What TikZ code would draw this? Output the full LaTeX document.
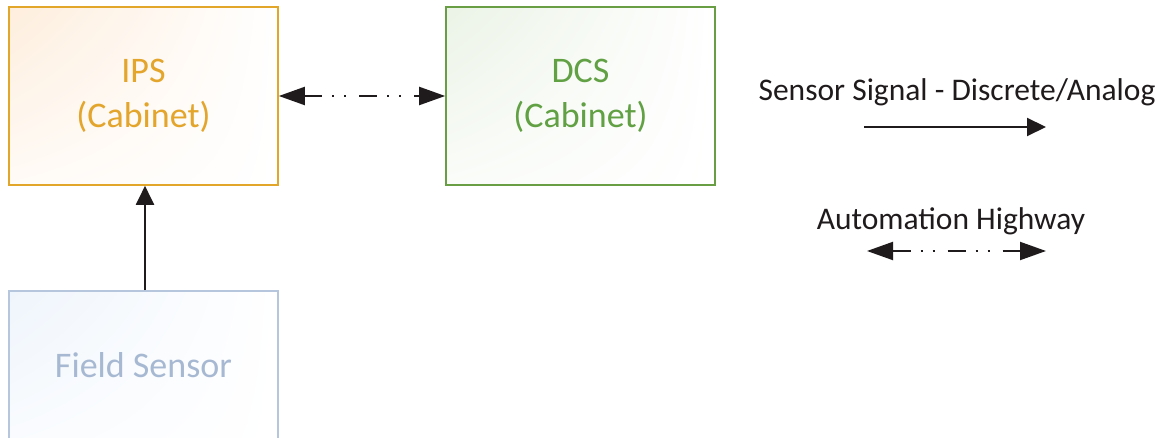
\documentclass[tikz,border=0pt]{standalone}
\usepackage{fontspec}
\setmainfont{Carlito}
\usetikzlibrary{arrows.meta,shadings}
\definecolor{ipsline}{HTML}{E2A62A}
\definecolor{ipstext}{HTML}{E3A52C}
\definecolor{ipstint}{HTML}{FEEEDD}
\definecolor{dcsline}{HTML}{6A9E45}
\definecolor{dcstext}{HTML}{62A044}
\definecolor{dcstint}{HTML}{EBF3E6}
\definecolor{fsline}{HTML}{B6C6DC}
\definecolor{fstext}{HTML}{A7B9D2}
\definecolor{fstint}{HTML}{EFF5FC}
\definecolor{ink}{HTML}{1F1A1C}
\tikzset{
  x=1pt, y=-1pt,
  cabinet/.style={rectangle, minimum width=269pt, minimum height=178pt,
    line width=1.6pt, align=center, font=\fontsize{36}{45}\selectfont, inner sep=0pt},
  signal/.style={line width=2pt, draw=ink, -{Triangle[length=19pt, width=18pt]}},
  highway/.style={line width=2pt, draw=ink,
    dash pattern=on 18pt off 10pt on 2pt off 10pt on 2pt off 13pt,
    {Triangle[length=26pt, width=18pt]}-{Triangle[length=26pt, width=18pt]}},
  legendtext/.style={font=\fontsize{31.5}{38}\selectfont, text=ink, inner sep=0pt}
}
\begin{document}
\begin{tikzpicture}
\useasboundingbox (0,0) rectangle (1169,438);
\clip (0,0) rectangle (1169,438);

% tinted backgrounds fading to white
\shade[upper left=ipstint, upper right=white, lower left=ipstint!25, lower right=white]
  (9,7) rectangle (278,185);
\shade[upper left=dcstint, upper right=white, lower left=dcstint!25, lower right=white]
  (446,7) rectangle (715,185);
\shade[upper left=fstint, upper right=white, lower left=fstint!35, lower right=white]
  (9,291) rectangle (278,440);

% boxes
\node[cabinet, draw=ipsline, text=ipstext] (ips) at (143.5,96) {IPS\\(Cabinet)};
\node[cabinet, draw=dcsline, text=dcstext] (dcs) at (580.5,96) {DCS\\(Cabinet)};
\node[cabinet, draw=fsline, text=fstext, minimum height=149pt] (fs) at (143.5,365.5) {Field Sensor};

% connectors
\draw[signal] (fs.north -| 145,0) -- (ips.south -| 145,0);
\draw[highway] (ips.east) -- (dcs.west);

% legend
\node[legendtext] (lsig) at (957,92) {Sensor Signal - Discrete/Analog};
\coordinate (sigA) at (864,127);
\coordinate (sigB) at (1046,127);
\draw[signal] (sigA) -- (sigB);

\node[legendtext] (lhwy) at (951,221) {Automation Highway};
\coordinate (hwyA) at (867,251);
\coordinate (hwyB) at (1046,251);
\draw[highway] (hwyA) -- (hwyB);
\end{tikzpicture}
\end{document}
